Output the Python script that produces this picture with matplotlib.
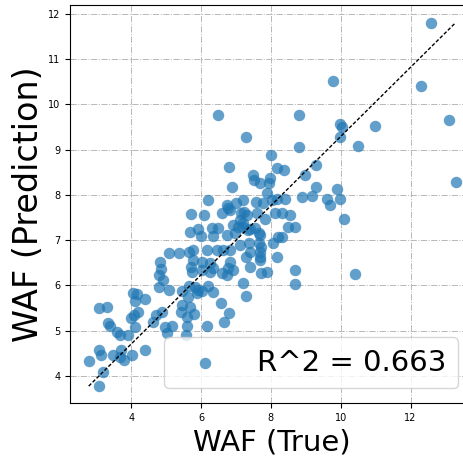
import numpy as np
import matplotlib
matplotlib.use("Agg")
import matplotlib.pyplot as plt

# values (true WAF, predicted WAF)
waf_true = [
    6.49, 7.28, 6.80, 6.89, 7.49, 7.51, 6.20, 8.80, 9.98, 10.05,
    9.98, 10.50, 8.80, 7.99, 12.58, 9.79, 12.30, 13.09, 10.98, 13.29,
    8.18, 8.38, 8.99, 9.29, 7.97, 7.95, 7.69, 9.29, 9.88, 7.88,
    8.88, 9.17, 9.60, 9.98, 9.69, 10.09, 8.54, 8.50, 8.69, 8.69,
    10.41, 8.69, 8.40, 8.12, 8.31, 7.83, 7.69, 8.21, 8.31, 8.07,
    8.16, 7.73, 7.69, 7.88, 7.73, 7.69, 7.19, 7.00, 6.75, 6.83,
    7.57, 7.78, 8.02, 8.18, 5.70, 6.08, 6.59, 7.13, 7.32, 7.61,
    7.11, 7.19, 7.40, 7.06, 6.30, 6.49, 5.92, 5.68, 5.99, 6.35,
    6.75, 6.97, 7.67, 7.67, 5.37, 5.76, 6.16, 6.45, 6.63, 7.11,
    7.40, 5.08, 5.78, 6.02, 6.25, 6.83, 7.30, 7.69, 7.40, 5.70,
    6.35, 6.78, 6.92, 6.02, 6.59, 6.78, 7.24, 6.92, 7.19, 7.35,
    7.54, 7.38, 5.66, 6.83, 4.82, 4.85, 4.78, 5.73, 6.25, 6.73,
    7.19, 7.28, 4.78, 5.07, 4.92, 5.45, 5.66, 5.82, 5.87, 5.92,
    6.02, 5.63, 6.20, 6.35, 6.58, 6.79, 6.67, 6.17, 5.80, 5.59,
    5.60, 5.58, 5.41, 5.44, 5.68, 4.70, 4.63, 4.87, 4.97, 5.17,
    5.01, 4.40, 4.04, 4.15, 4.11, 4.20, 4.09, 3.99, 4.11, 3.90,
    3.68, 3.60, 4.38, 4.01, 3.70, 3.68, 3.48, 3.79, 3.12, 3.08,
    3.30, 3.08, 3.32, 3.39, 3.18, 2.78, 3.07,
]
waf_pred = [
    9.77, 9.27, 8.61, 8.18, 8.44, 8.33, 7.89, 9.77, 9.57, 9.51,
    9.29, 9.08, 9.07, 8.88, 11.81, 10.53, 10.41, 9.66, 9.52, 8.29,
    8.60, 8.55, 8.44, 8.66, 8.37, 8.26, 8.26, 8.17, 8.12, 8.05,
    7.96, 7.97, 7.92, 7.90, 7.78, 7.46, 7.56, 7.30, 7.30, 6.34,
    6.25, 6.03, 7.90, 7.59, 7.59, 7.46, 7.11, 7.07, 7.06, 6.93,
    6.63, 6.85, 6.56, 6.30, 6.28, 6.74, 7.89, 7.81, 7.78, 7.66,
    7.85, 7.81, 7.89, 7.92, 7.58, 7.55, 7.59, 7.60, 7.55, 7.59,
    7.44, 7.30, 7.24, 7.30, 7.26, 7.26, 7.24, 7.19, 7.09, 7.09,
    7.11, 7.15, 7.15, 6.93, 6.71, 6.78, 6.78, 6.78, 6.78, 6.89,
    6.74, 6.72, 6.57, 6.52, 6.50, 6.52, 6.62, 6.63, 6.41, 6.41,
    6.38, 6.38, 6.34, 6.34, 6.28, 7.70, 7.63, 7.33, 7.38, 7.22,
    7.26, 6.93, 6.74, 6.78, 6.52, 6.36, 6.22, 6.30, 6.30, 6.23,
    6.05, 5.76, 5.97, 5.89, 6.12, 5.88, 5.98, 5.97, 5.82, 5.90,
    5.87, 5.75, 5.98, 5.86, 5.61, 5.38, 5.19, 5.10, 5.37, 5.31,
    5.10, 4.91, 5.40, 5.56, 5.53, 5.34, 5.18, 5.40, 5.08, 5.10,
    4.95, 5.69, 5.84, 5.81, 5.66, 5.42, 5.34, 5.27, 5.07, 4.90,
    4.90, 4.97, 4.58, 4.46, 4.56, 4.42, 4.46, 4.35, 4.46, 4.57,
    5.53, 5.49, 5.17, 5.11, 4.08, 4.32, 3.77,
]
r2_label = "R^2 = 0.663"

x = np.array(waf_true)
y = np.array(waf_pred)

fig = plt.figure(figsize=(4.64, 4.58), dpi=100)
ax = fig.add_axes([0.1515, 0.120, 0.868, 0.869])

ax.scatter(x, y, s=68, color="#1f77b4", alpha=0.7, linewidths=0, label=r2_label)

# guide line from (min true, min pred) to (max true, max pred)
ax.plot([x.min(), x.max()], [y.min(), y.max()], color="black",
        linestyle=(0, (2.6, 1.4)), linewidth=1)

ax.set_xlim(2.253, 13.79)
ax.set_ylim(3.396, 12.2)
ax.set_xticks([4, 6, 8, 10, 12])
ax.set_yticks([4, 5, 6, 7, 8, 9, 10, 11, 12])
ax.tick_params(labelsize=7)
ax.grid(True, linestyle="-.", color="0.72", linewidth=0.7)
ax.set_axisbelow(True)

ax.set_xlabel("WAF (True)", fontsize=21)
ax.set_ylabel("WAF (Prediction)", fontsize=24, labelpad=2)
ax.legend(loc="lower right", fontsize=21)

fig.savefig("out.png", dpi=100)
